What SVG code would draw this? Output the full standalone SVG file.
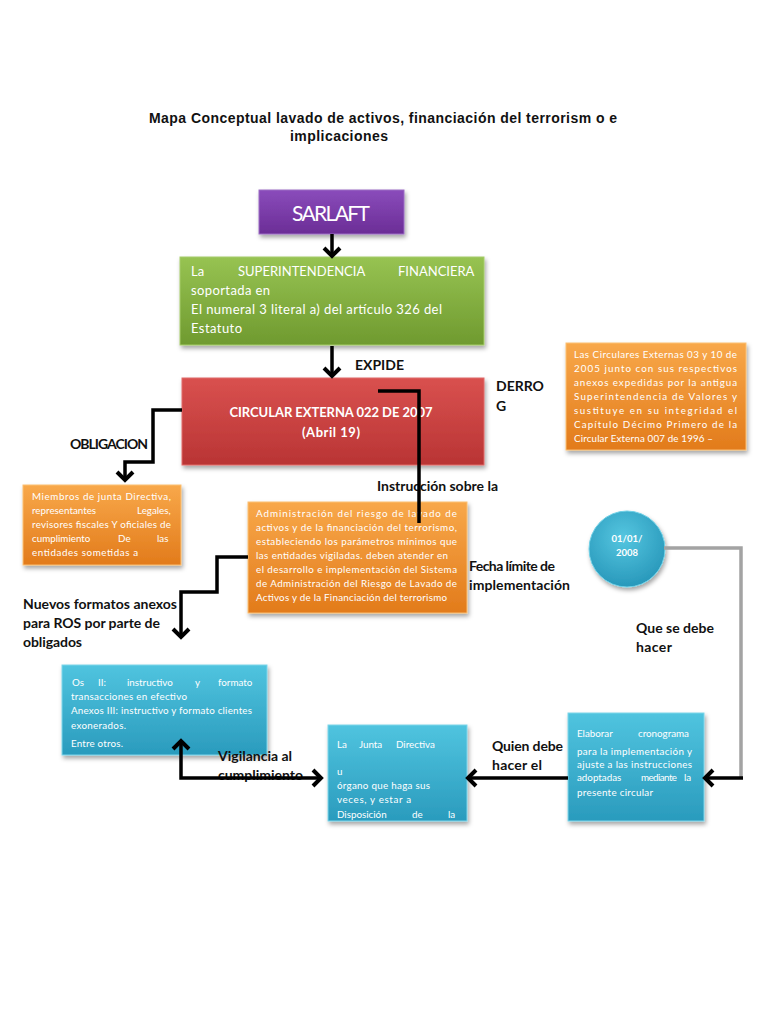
<svg xmlns="http://www.w3.org/2000/svg" width="768" height="1024" viewBox="0 0 768 1024">
<style>
.title{font-family:"Liberation Sans",Arial,sans-serif;font-weight:bold;font-size:14px;fill:#111}
.lbl{font-family:Lato,"Open Sans",sans-serif;font-weight:bold;font-size:14px;fill:#111}
.w{font-family:Lato,"Open Sans",sans-serif;fill:#fff}
.s{font-size:9.8px}
.m{font-size:13px}
.b{font-weight:bold}
.con{fill:none;stroke:#000;stroke-width:3.5;stroke-linejoin:miter}
.gray{fill:none;stroke:#a3a3a3;stroke-width:3.5}
.box{filter:url(#sh)}
</style>
<defs>
<filter id="sh" x="-10%" y="-10%" width="125%" height="135%">
<feDropShadow dx="1.5" dy="3" stdDeviation="2" flood-color="#000" flood-opacity="0.35"/>
</filter>
<linearGradient id="gP" x1="0" y1="0" x2="0" y2="1"><stop offset="0" stop-color="#8a4cbb"/><stop offset="1" stop-color="#6b2d96"/></linearGradient>
<linearGradient id="gG" x1="0" y1="0" x2="0" y2="1"><stop offset="0" stop-color="#97c352"/><stop offset="1" stop-color="#6f9a2f"/></linearGradient>
<linearGradient id="gR" x1="0" y1="0" x2="0" y2="1"><stop offset="0" stop-color="#d9514f"/><stop offset="1" stop-color="#b93434"/></linearGradient>
<linearGradient id="gO" x1="0" y1="0" x2="0" y2="1"><stop offset="0" stop-color="#f8a84a"/><stop offset="1" stop-color="#e27b1b"/></linearGradient>
<linearGradient id="gB" x1="0" y1="0" x2="0" y2="1"><stop offset="0" stop-color="#50c4df"/><stop offset="1" stop-color="#2a9bbd"/></linearGradient>
<radialGradient id="gC" cx="0.45" cy="0.35" r="0.7"><stop offset="0" stop-color="#55c6e0"/><stop offset="1" stop-color="#2595b8"/></radialGradient>
<marker id="ar" viewBox="-12 -12 24 24" markerWidth="24" markerHeight="24" markerUnits="userSpaceOnUse" refX="-2" refY="0" orient="auto-start-reverse">
<path d="M-9,-8 L-1,0 L-9,8" fill="none" stroke="#000" stroke-width="4"/>
</marker>
</defs>

<g id="title">
<text class="title" x="149" y="123" textLength="468">Mapa Conceptual lavado de activos, financiación del terrorism o e</text>
<text class="title" x="290" y="141" textLength="98">implicaciones</text>
</g>

<g id="sarlaft">
<rect class="box" x="259" y="190" width="145" height="44" fill="url(#gP)" stroke="#9c6cc4" stroke-width="1"/>
<text class="w" x="331" y="221" font-size="21" text-anchor="middle" textLength="78">SARLAFT</text>
</g>

<g id="superintendencia">
<rect class="box" x="180" y="257" width="304" height="88" fill="url(#gG)" stroke="#a5cc6a" stroke-width="1"/>
<text class="w m" y="276"><tspan x="191">La</tspan><tspan x="238">SUPERINTENDENCIA</tspan><tspan x="398">FINANCIERA</tspan></text>
<text class="w m" x="191" y="295" textLength="79">soportada en</text>
<text class="w m" x="191" y="314" textLength="251">El numeral 3 literal a) del artículo 326 del</text>
<text class="w m" x="191" y="333" textLength="51">Estatuto</text>
</g>

<g id="circular">
<rect class="box" x="182" y="378" width="302" height="87" fill="url(#gR)" stroke="#e06a68" stroke-width="1"/>
<text class="w m b" x="331" y="417" text-anchor="middle" textLength="203">CIRCULAR EXTERNA 022 DE 2007</text>
<text class="w m b" x="331" y="437" text-anchor="middle" textLength="58">(Abril 19)</text>
</g>

<g id="derogadas">
<rect class="box" x="566" y="343" width="180" height="107" fill="url(#gO)" stroke="#fbbf73" stroke-width="1"/>
<text class="w s" x="574" y="358" textLength="163">Las Circulares Externas 03 y 10 de</text>
<text class="w s" x="574" y="372" textLength="163">2005 junto con sus respectivos</text>
<text class="w s" x="574" y="386" textLength="163">anexos expedidas por la antigua</text>
<text class="w s" x="574" y="400" textLength="163">Superintendencia de Valores y</text>
<text class="w s" x="574" y="414" textLength="163">sustituye en su integridad el</text>
<text class="w s" x="574" y="428" textLength="163">Capítulo Décimo Primero de la</text>
<text class="w s" x="574" y="442" textLength="139">Circular Externa 007 de 1996 –</text>
</g>

<g id="miembros">
<rect class="box" x="23" y="485" width="158" height="80" fill="url(#gO)" stroke="#fbbf73" stroke-width="1"/>
<text class="w s" x="32" y="500" textLength="139">Miembros de junta Directiva,</text>
<text class="w s" y="514"><tspan x="32">representantes</tspan><tspan x="137">Legales,</tspan></text>
<text class="w s" x="32" y="528" textLength="139">revisores fiscales Y oficiales de</text>
<text class="w s" y="542"><tspan x="32">cumplimiento</tspan><tspan x="118">De</tspan><tspan x="157">las</tspan></text>
<text class="w s" x="32" y="556" textLength="106">entidades sometidas a</text>
</g>

<g id="administracion">
<rect class="box" x="248" y="502" width="219" height="111" fill="url(#gO)" stroke="#fbbf73" stroke-width="1"/>
<text class="w s" x="256" y="517" textLength="201">Administración del riesgo de lavado de</text>
<text class="w s" x="256" y="531" textLength="201">activos y de la financiación del terrorismo,</text>
<text class="w s" x="256" y="545" textLength="201">estableciendo los parámetros mínimos que</text>
<text class="w s" x="256" y="559" textLength="192">las entidades vigiladas. deben atender en</text>
<text class="w s" x="256" y="573" textLength="201">el desarrollo e implementación del Sistema</text>
<text class="w s" x="256" y="587" textLength="201">de Administración del Riesgo de Lavado de</text>
<text class="w s" x="256" y="601" textLength="191">Activos y de la Financiación del terrorismo</text>
</g>

<g id="fecha">
<circle class="box" cx="627" cy="549" r="38" fill="url(#gC)" stroke="#6fd0e6" stroke-width="1"/>
<text class="w b" x="627" y="542" font-size="9.5" text-anchor="middle">01/01/</text>
<text class="w b" x="627" y="556" font-size="9.5" text-anchor="middle">2008</text>
</g>

<g id="anexos">
<rect class="box" x="62" y="665" width="205" height="90" fill="url(#gB)" stroke="#7dd5ea" stroke-width="1"/>
<text class="w s" y="686"><tspan x="72">Os</tspan><tspan x="98">II:</tspan><tspan x="127">instructivo</tspan><tspan x="195">y</tspan><tspan x="218">formato</tspan></text>
<text class="w s" x="71" y="700" textLength="116">transacciones en efectivo</text>
<text class="w s" x="71" y="714" textLength="181">Anexos III: instructivo y formato clientes</text>
<text class="w s" x="71" y="729" textLength="55">exonerados.</text>
<text class="w s" x="71" y="747" textLength="52">Entre otros.</text>
</g>

<g id="junta">
<rect class="box" x="328" y="725" width="139" height="96" fill="url(#gB)" stroke="#7dd5ea" stroke-width="1"/>
<text class="w s" y="748"><tspan x="337">La</tspan><tspan x="359">Junta</tspan><tspan x="396">Directiva</tspan></text>
<text class="w s" x="337" y="775">u</text>
<text class="w s" x="337" y="789" textLength="93">órgano que haga sus</text>
<text class="w s" x="337" y="803" textLength="74">veces, y estar a</text>
<text class="w s" y="818"><tspan x="337">Disposición</tspan><tspan x="412">de</tspan><tspan x="448">la</tspan></text>
</g>

<g id="cronograma">
<rect class="box" x="568" y="713" width="136" height="108" fill="url(#gB)" stroke="#7dd5ea" stroke-width="1"/>
<text class="w s" y="737"><tspan x="577">Elaborar</tspan><tspan x="638">cronograma</tspan></text>
<text class="w s" x="577" y="755" textLength="115">para la implementación y</text>
<text class="w s" x="577" y="768" textLength="115">ajuste a las instrucciones</text>
<text class="w s" x="577" y="781">adoptadas</text>
<text class="w s" x="641" y="781" textLength="36">mediante</text>
<text class="w s" x="684" y="781">la</text>
<text class="w s" x="577" y="796" textLength="76">presente circular</text>
</g>

<g id="labels">
<text class="lbl" x="355" y="370" font-size="13">EXPIDE</text>
<text class="lbl" x="496" y="391" font-size="13">DERRO</text>
<text class="lbl" x="496" y="411" font-size="13">G</text>
<text class="lbl" x="70" y="449" font-size="13" textLength="78">OBLIGACION</text>
<text class="lbl" x="377" y="491" font-size="13" textLength="121">Instrucción sobre la</text>
<text class="lbl" x="469" y="571" textLength="86">Fecha límite de</text>
<text class="lbl" x="469" y="590" textLength="101">implementación</text>
<text class="lbl" x="23" y="609" textLength="154">Nuevos formatos anexos</text>
<text class="lbl" x="23" y="628" textLength="137">para ROS por parte de</text>
<text class="lbl" x="23" y="647" textLength="59">obligados</text>
<text class="lbl" x="218" y="761" textLength="74">Vigilancia al</text>
<text class="lbl" x="218" y="780" textLength="85">cumplimiento</text>
<text class="lbl" x="492" y="751" textLength="71">Quien debe</text>
<text class="lbl" x="492" y="770" textLength="50">hacer el</text>
<text class="lbl" x="636" y="633" textLength="78">Que se debe</text>
<text class="lbl" x="636" y="652" textLength="36">hacer</text>
</g>

<g id="connectors">
<line class="con" x1="332" y1="234" x2="332" y2="255" marker-end="url(#ar)"/>
<line class="con" x1="332" y1="346" x2="332" y2="375" marker-end="url(#ar)"/>
<path class="con" d="M182,410 H153 V462 H125 V479" marker-end="url(#ar)"/>
<path class="con" d="M378,391 H419 V523"/>
<path class="con" d="M248,557 H217 V592 H181 V636" marker-end="url(#ar)"/>
<path class="con" d="M181,742 V778 H320" marker-start="url(#ar)" marker-end="url(#ar)"/>
<line class="con" x1="568" y1="778" x2="469" y2="778" marker-end="url(#ar)"/>
<path class="gray" d="M664,548 H741 V778"/>
<line class="con" x1="743" y1="778" x2="706" y2="778" marker-end="url(#ar)"/>
</g>
</svg>
